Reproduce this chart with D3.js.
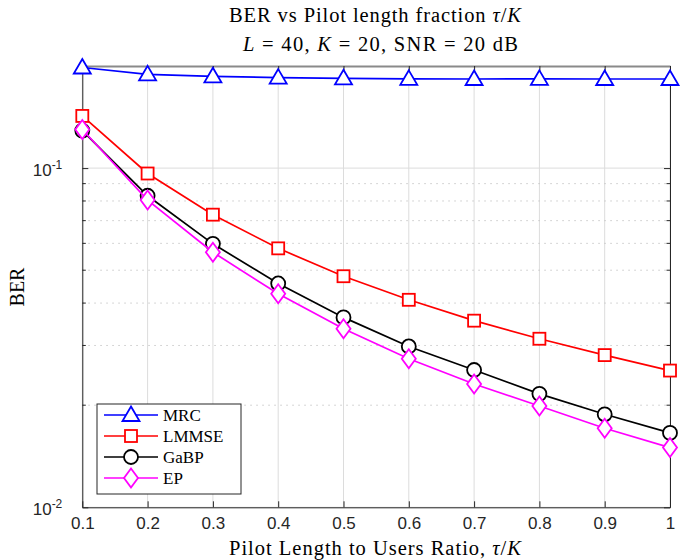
<!DOCTYPE html>
<html><head><meta charset="utf-8">
<script src="https://cdn.jsdelivr.net/npm/d3@7"></script>
<style>body{margin:0;background:#fff}svg{display:block}</style>
</head><body><svg id="c" width="697" height="560"></svg>
<script>
const xVals = [0.1,0.2,0.3,0.4,0.5,0.6,0.7,0.8,0.9,1.0];
const mrc   = [0.198,0.189,0.1865,0.1848,0.184,0.1833,0.1831,0.1833,0.1831,0.1831];
const lmmse = [0.1425,0.0964,0.0729,0.058,0.048,0.0409,0.0355,0.0314,0.0281,0.0253];
const gabp  = [0.129,0.0829,0.0598,0.0457,0.0363,0.0298,0.0254,0.0216,0.0188,0.01657];
const ep    = [0.130,0.0805,0.0565,0.0426,0.0336,0.0274,0.0231,0.0199,0.0171,0.0150];
const xTicks = [0.1,0.2,0.3,0.4,0.5,0.6,0.7,0.8,0.9,1];
const yMajor = [0.01,0.1];
const yMinor = [0.02,0.03,0.04,0.05,0.06,0.07,0.08,0.09];
const seriesNames = ["MRC","LMMSE","GaBP","EP"];

const series = [
  {name:seriesNames[0], vals:mrc, color:"#0000ff", marker:"tri"},
  {name:seriesNames[1], vals:lmmse, color:"#ff0000", marker:"sq"},
  {name:seriesNames[2], vals:gabp, color:"#000000", marker:"circ"},
  {name:seriesNames[3], vals:ep, color:"#ff00ff", marker:"dia"}
];

const svg = d3.select("#c");
const L=82.3, R=670, T=66, B=507.3;
const x = d3.scaleLinear().domain([0.1,1]).range([L,R]);
const y = d3.scaleLog().domain([0.01,0.2]).range([B,T]);
const serif = "'Liberation Serif','DejaVu Serif',serif";
const sans = "'Liberation Sans',Arial,sans-serif";

// grid
const g = svg.append("g");
g.selectAll(".vg").data(xTicks).join("line")
  .attr("x1",d=>x(d)).attr("x2",d=>x(d)).attr("y1",T).attr("y2",B)
  .attr("stroke","#dcdcdc").attr("stroke-width",1);
g.selectAll(".hm").data(yMajor).join("line")
  .attr("x1",L).attr("x2",R).attr("y1",d=>y(d)).attr("y2",d=>y(d))
  .attr("stroke","#dcdcdc").attr("stroke-width",1);
g.selectAll(".hn").data(yMinor).join("line")
  .attr("x1",L).attr("x2",R).attr("y1",d=>y(d)).attr("y2",d=>y(d))
  .attr("stroke","#c8c8c8").attr("stroke-width",1).attr("stroke-dasharray","1.5,4.5");

// axes
const axB = d3.axisBottom(x).tickValues(xTicks).tickSizeInner(-6).tickSizeOuter(0).tickFormat(d=>d===1?"1":d3.format(".1f")(d));
const gb = svg.append("g").attr("transform",`translate(0,${B})`).call(axB);
gb.select(".domain").attr("stroke","#262626");
gb.selectAll(".tick line").attr("stroke","#262626");
gb.selectAll(".tick text").attr("font-family",sans).attr("font-size",17).attr("fill","#262626").attr("dy","1.1em");

const gt = svg.append("g").attr("transform",`translate(0,${T})`).call(d3.axisTop(x).tickValues(xTicks).tickSizeInner(-6).tickSizeOuter(0).tickFormat(""));
gt.select(".domain").attr("stroke","#8a8a8a").attr("stroke-width",2);
gt.selectAll(".tick line").attr("stroke","#262626");

const gl = svg.append("g").attr("transform",`translate(${L},0)`).call(d3.axisLeft(y).tickValues(yMajor).tickSizeInner(-6).tickSizeOuter(0).tickFormat(""));
gl.select(".domain").attr("stroke","#262626");
gl.selectAll(".tick line").attr("stroke","#262626");
svg.append("g").selectAll("line").data(yMinor).join("line")
  .attr("x1",L).attr("x2",L+3.5).attr("y1",d=>y(d)).attr("y2",d=>y(d)).attr("stroke","#262626");
const gr = svg.append("g").attr("transform",`translate(${R},0)`).call(d3.axisRight(y).tickValues(yMajor).tickSizeInner(-6).tickSizeOuter(0).tickFormat(""));
gr.select(".domain").attr("stroke","#262626");
gr.selectAll(".tick line").attr("stroke","#262626");
svg.append("g").selectAll("line").data(yMinor).join("line")
  .attr("x1",R-3.5).attr("x2",R).attr("y1",d=>y(d)).attr("y2",d=>y(d)).attr("stroke","#262626");

// y tick labels
yMajor.forEach(v=>{
  const t = svg.append("text").attr("x",L-20).attr("y",y(v)+8).attr("text-anchor","end")
    .attr("font-family",sans).attr("font-size",17).attr("fill","#262626");
  t.append("tspan").text("10");
  t.append("tspan").attr("dy",-7).attr("font-size",12).text("-"+Math.round(-Math.log10(v)));
});

// markers
function drawMarker(sel, type, color){
  if(type==="tri") sel.append("path").attr("d","M0,-8.5 L8.5,6 L-8.5,6 Z");
  else if(type==="sq") sel.append("rect").attr("x",-6).attr("y",-6).attr("width",12).attr("height",12);
  else if(type==="circ") sel.append("circle").attr("r",7);
  else sel.append("path").attr("d","M0,-9.5 L7,0 L0,9.5 L-7,0 Z");
  sel.selectAll("*").attr("fill","#fff").attr("stroke",color).attr("stroke-width",1.8);
}
const line = d3.line().x((d,i)=>x(xVals[i])).y(d=>y(d));
series.forEach(s=>{
  svg.append("path").datum(s.vals).attr("d",line).attr("fill","none")
    .attr("stroke",s.color).attr("stroke-width",1.7);
  s.vals.forEach((v,i)=>{
    const m = svg.append("g").attr("transform",`translate(${x(xVals[i])},${y(v)})`);
    drawMarker(m,s.marker,s.color);
  });
});

// legend
const lg = svg.append("g");
lg.append("rect").attr("x",97).attr("y",404).attr("width",144).attr("height",90)
  .attr("fill","#fff").attr("stroke","#262626").attr("stroke-width",1);
series.forEach((s,i)=>{
  const yy = 415 + i*21;
  lg.append("line").attr("x1",104).attr("x2",158).attr("y1",yy).attr("y2",yy).attr("stroke",s.color).attr("stroke-width",1.7);
  const m = lg.append("g").attr("transform",`translate(131,${yy})`);
  drawMarker(m,s.marker,s.color);
  lg.append("text").attr("x",163).attr("y",yy+5.5).attr("font-family",serif).attr("font-size",17).attr("fill","#000").text(s.name);
});

// titles
const t1 = svg.append("text").attr("x",229).attr("y",22).attr("font-family",serif).attr("font-size",20.5).attr("fill","#000")
  .attr("textLength",292).attr("lengthAdjust","spacing");
t1.append("tspan").text("BER vs Pilot length fraction ");
t1.append("tspan").attr("font-style","italic").text("τ");
t1.append("tspan").text("/");
t1.append("tspan").attr("font-style","italic").text("K");
const t2 = svg.append("text").attr("x",243).attr("y",51).attr("font-family",serif).attr("font-size",20.5).attr("fill","#000")
  .attr("textLength",275).attr("lengthAdjust","spacing");
t2.append("tspan").attr("font-style","italic").text("L");
t2.append("tspan").text(" = 40, ");
t2.append("tspan").attr("font-style","italic").text("K");
t2.append("tspan").text(" = 20, SNR = 20 dB");

const xl = svg.append("text").attr("x",229).attr("y",555).attr("font-family",serif).attr("font-size",20.5).attr("fill","#000")
  .attr("textLength",292).attr("lengthAdjust","spacing");
xl.append("tspan").text("Pilot Length to Users Ratio, ");
xl.append("tspan").attr("font-style","italic").text("τ");
xl.append("tspan").text("/");
xl.append("tspan").attr("font-style","italic").text("K");

svg.append("text").attr("transform","translate(24,287) rotate(-90)").attr("text-anchor","middle")
  .attr("font-family",serif).attr("font-size",20).attr("fill","#000").text("BER");
</script></body></html>
